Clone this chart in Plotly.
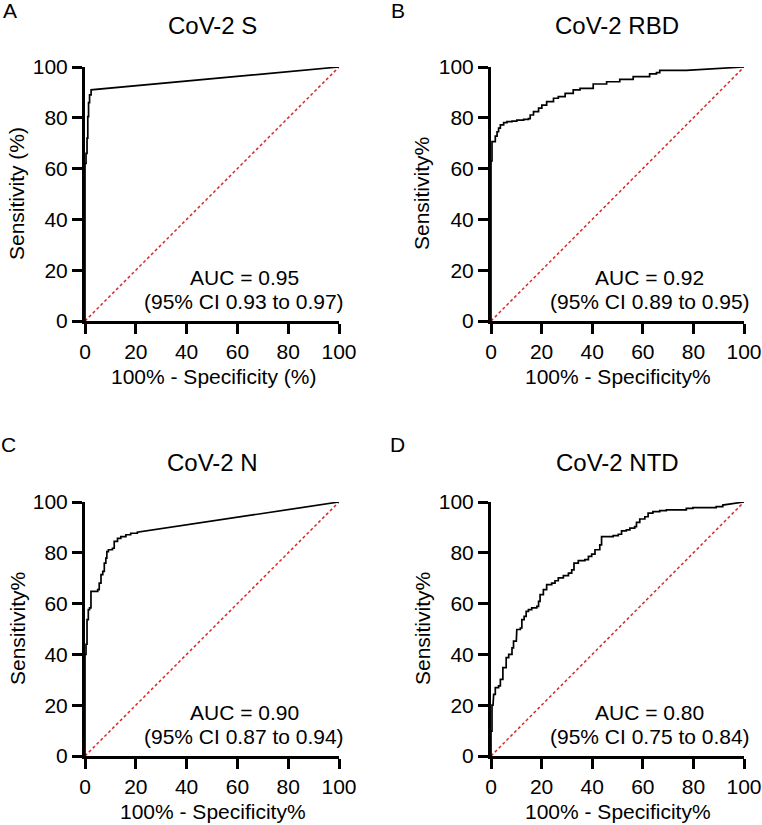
import plotly.graph_objects as go

W, H = 762, 825
FONT = "Liberation Sans, Arial, Helvetica, sans-serif"

titles = ["CoV-2 S", "CoV-2 RBD", "CoV-2 N", "CoV-2 NTD"]
panel_letters = ["A", "B", "C", "D"]
y_titles = ["Sensitivity (%)", "Sensitivity%", "Sensitivity%", "Sensitivity%"]
x_titles = ["100% - Specificity (%)", "100% - Specificity%", "100% - Specificity%", "100% - Specificity%"]
auc_text = ["AUC = 0.95", "AUC = 0.92", "AUC = 0.90", "AUC = 0.80"]
ci_text = ["(95% CI 0.93 to 0.97)", "(95% CI 0.89 to 0.95)",
           "(95% CI 0.87 to 0.94)", "(95% CI 0.75 to 0.84)"]
tick_vals = [0, 20, 40, 60, 80, 100]
tick_text = ["0", "20", "40", "60", "80", "100"]

# ROC points (100% - specificity, sensitivity), each point = top of a riser
s_fpr = [0, 0.4, 0.8, 1.1, 1.4, 1.8, 2.4, 100]
s_tpr = [62, 66, 72, 80.5, 86, 89, 91, 100]

rbd_fpr = [0, 0.4, 1.7, 2.4, 3.0, 3.7, 5.0, 6.3, 8.3, 10.2, 12.9, 14.8, 15.5, 16.8,
           18.8, 20.1, 22.0, 24.7, 26.6, 29.3, 32.5, 35.2, 40.4, 45.7, 50.9, 56.2,
           62.7, 65.4, 66.7, 77.2, 100]
rbd_tpr = [63, 70.6, 72.8, 74.5, 75.9, 77.2, 78.1, 78.5, 78.7, 79.1, 79.4, 79.7, 81.1,
           82.4, 83.8, 85.0, 86.4, 87.7, 88.3, 89.6, 91.0, 91.6, 93.3, 94.2, 95.1, 96.2,
           97.3, 97.8, 98.7, 98.7, 100]

n_fpr = [0, 0.4, 0.8, 1.3, 1.8, 2.35, 5.0, 5.6, 6.3, 7.0, 7.6, 8.2, 8.6, 9.2, 10.8,
         11.5, 12.8, 14.1, 16.1, 18.0, 20.6, 100]
n_tpr = [40, 44, 53.7, 57.6, 58.3, 64.8, 65.5, 68.1, 71.4, 72.7, 75.9, 77.9, 80.5, 81.2,
         81.8, 84.5, 85.7, 86.4, 87.1, 87.7, 88.1, 100]

ntd_fpr = [0, 0.4, 0.8, 1.05, 1.7, 3.0, 3.7, 4.7, 6.0, 7.0, 8.3, 8.9, 10.0, 10.2, 11.6,
           12.2, 13.1, 13.9, 14.8, 16.1, 18.1, 18.8, 19.4, 20.7, 22.0, 24.0, 25.3, 26.6,
           28.6, 30.6, 31.9, 32.8, 34.5, 37.1, 38.5, 39.8, 41.1, 43.0, 43.7, 48.3, 50.3,
           51.6, 53.5, 54.9, 56.8, 57.5, 58.8, 60.8, 62.1, 64.0, 66.7, 69.3, 77.2, 79.8,
           89.0, 91.6, 100]
ntd_tpr = [9.8, 20, 22, 24.3, 26.9, 27.6, 30.2, 34.8, 38.7, 40.0, 42.6, 45.2, 47.1, 49.8,
           50.4, 53.7, 55.0, 56.9, 57.6, 58.3, 58.9, 60.9, 63.5, 65.5, 67.5, 68.1, 69.0,
           70.1, 71.0, 72.0, 73.3, 75.9, 76.9, 77.3, 78.6, 79.5, 81.2, 83.1, 86.4, 86.8,
           87.3, 88.6, 89.0, 89.7, 90.3, 92.0, 93.3, 94.2, 95.6, 96.2, 96.6, 96.9, 97.5,
           97.8, 98.2, 98.8, 100]

curves = [(s_fpr, s_tpr), (rbd_fpr, rbd_tpr), (n_fpr, n_tpr), (ntd_fpr, ntd_tpr)]


def stair(fpr, tpr):
    xs, ys = [0], [0]
    for x, y in zip(fpr[:-1], tpr[:-1]):
        xs += [x, x]
        ys += [ys[-1], y]
    xs.append(fpr[-1])
    ys.append(tpr[-1])
    return xs, ys


# pixel layout of each panel: left, right, top, bottom
boxes = [(85, 339, 67, 321), (491, 744, 67, 321), (85, 339, 502, 756), (491, 744, 502, 756)]
title_pos = [(212, 26), (617, 26), (212, 463), (617, 463)]
letter_pos = [(10, 11), (398, 11), (8, 444), (397, 444)]
ytitle_pos = [(17, 194), (422, 194), (17, 629), (422, 629)]
xtitle_pos = [(213, 376), (618, 376), (213, 811), (618, 811)]


def px(x):
    return x / W


def py(y):
    return 1 - y / H


fig = go.Figure()
layout = dict(
    template="none",
    width=W, height=H, margin=dict(l=0, r=0, t=0, b=0, autoexpand=False),
    paper_bgcolor="white", plot_bgcolor="white",
    showlegend=False, font=dict(family=FONT, size=21, color="black"),
)
annotations = []
for i in range(4):
    sfx = "" if i == 0 else str(i + 1)
    xa, ya = "x" + sfx, "y" + sfx
    l, r, t, b = boxes[i]
    axis_common = dict(
        range=[0, 100], showline=True, linewidth=3, linecolor="black",
        ticks="outside", ticklen=10, tickwidth=2.5, tickcolor="black",
        showgrid=False, zeroline=False, tickvals=tick_vals, ticktext=tick_text,
        tickfont=dict(family=FONT, size=21, color="black"), fixedrange=True,
        automargin=False,
    )
    layout["xaxis" + sfx] = dict(axis_common, domain=[px(l), px(r)], anchor=ya)
    layout["yaxis" + sfx] = dict(axis_common, domain=[py(b), py(t)], anchor=xa)

    fig.add_trace(go.Scatter(x=[0, 100], y=[0, 100], mode="lines", xaxis=xa, yaxis=ya,
                             line=dict(color="#d42a2a", width=1.5, dash="3px,2.5px")))
    cx, cy = stair(*curves[i])
    fig.add_trace(go.Scatter(x=cx, y=cy, mode="lines", xaxis=xa, yaxis=ya,
                             line=dict(color="black", width=1.7)))

    annotations.append(dict(text=titles[i], x=px(title_pos[i][0]), y=py(title_pos[i][1]),
                            xref="paper", yref="paper", showarrow=False,
                            xanchor="center", yanchor="middle", font=dict(size=24)))
    annotations.append(dict(text=panel_letters[i], x=px(letter_pos[i][0]), y=py(letter_pos[i][1]),
                            xref="paper", yref="paper", showarrow=False,
                            xanchor="center", yanchor="middle", font=dict(size=21)))
    annotations.append(dict(text=y_titles[i], x=px(ytitle_pos[i][0]), y=py(ytitle_pos[i][1]),
                            xref="paper", yref="paper", showarrow=False, textangle=-90,
                            xanchor="center", yanchor="middle", font=dict(size=21)))
    annotations.append(dict(text=x_titles[i], x=px(xtitle_pos[i][0]), y=py(xtitle_pos[i][1]),
                            xref="paper", yref="paper", showarrow=False,
                            xanchor="center", yanchor="middle", font=dict(size=21)))
    annotations.append(dict(text=auc_text[i], x=62.7, y=17.3, xref=xa, yref=ya,
                            showarrow=False, xanchor="center", yanchor="middle",
                            font=dict(size=21)))
    annotations.append(dict(text=ci_text[i], x=62.7, y=7.7, xref=xa, yref=ya,
                            showarrow=False, xanchor="center", yanchor="middle",
                            font=dict(size=21)))

layout["annotations"] = annotations
fig.update_layout(**layout)
fig.write_html("out.html", config={"displayModeBar": False},
               post_script="document.body.style.margin='0';document.body.style.overflow='hidden';")
